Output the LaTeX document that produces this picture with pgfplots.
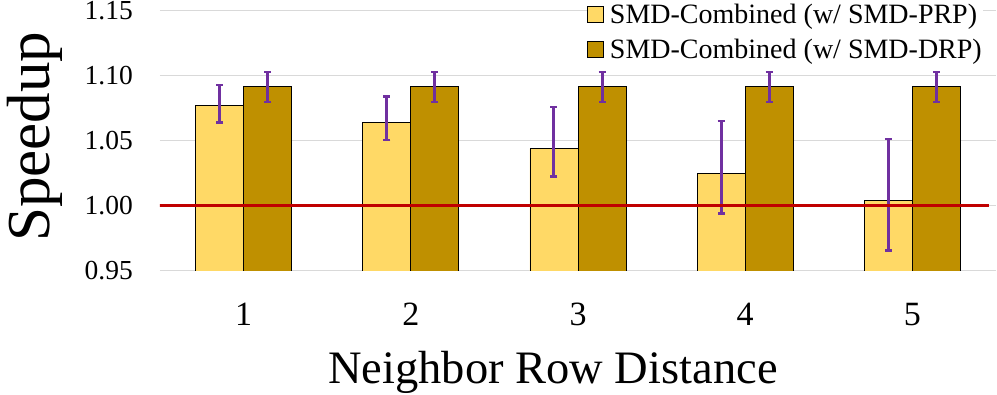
\documentclass[border=0pt]{standalone}
\usepackage{fontspec}
\setmainfont{Liberation Serif}
\usepackage{pgfplots}
\usepackage{pgfplotstable}
\pgfplotsset{compat=1.18}

\definecolor{ylw}{HTML}{FFD966}
\definecolor{gold}{HTML}{BF9000}
\definecolor{purp}{HTML}{7030A0}
\definecolor{redl}{HTML}{C00000}
\definecolor{gridc}{HTML}{D9D9D9}

% x  speedup  +err  -err
\pgfplotstableread{
x y ep em
1 1.0772 0.0159 0.0128
2 1.0644 0.0200 0.0136
3 1.0441 0.0321 0.0215
4 1.0251 0.0401 0.0307
5 1.0044 0.0471 0.0388
}\prp
\pgfplotstableread{
x y ep em
1 1.0923 0.0108 0.0123
2 1.0923 0.0108 0.0123
3 1.0923 0.0108 0.0123
4 1.0923 0.0108 0.0123
5 1.0923 0.0108 0.0123
}\drp

\pgfplotsset{
  errs/.style={forget plot, draw=none, mark=none,
    error bars/.cd, y dir=both, y explicit,
    error bar style={draw=purp, line width=3pt},
    error mark options={rotate=90, mark size=3.5pt, line width=2.5pt, draw=purp}},
}

\begin{document}
\begin{tikzpicture}
\begin{axis}[
  name=ax,
  scale only axis, width=836pt, height=260pt,
  xmin=0.5, xmax=5.5, ymin=0.95, ymax=1.15,
  xtick={1,2,3,4,5},
  ytick={0.95,1.00,1.05,1.10,1.15},
  /pgf/number format/assume math mode=true,
  yticklabel style={/pgf/number format/fixed, /pgf/number format/fixed zerofill,
    /pgf/number format/precision=2,
    font=\fontsize{27.5}{30}\selectfont, anchor=east, inner sep=0pt, xshift=-27pt},
  xticklabel style={font=\fontsize{34}{36}\selectfont, anchor=north, inner sep=0pt, yshift=-32pt},
  axis line style={draw=none}, tick style={draw=none},
  ymajorgrids, grid style={draw=gridc, line width=1pt},
  xlabel={Neighbor Row Distance},
  xlabel style={at={(axis description cs:0.5,0)}, anchor=base, yshift=-112pt, xshift=-25pt,
    font=\fontsize{46.5}{50}\selectfont},
  ylabel={Speedup},
  ylabel style={at={(axis description cs:-0.1495,0.517)}, anchor=center,
    font=\fontsize{61}{64}\selectfont},
  legend style={at={(axis description cs:1,1)}, anchor=north east, xshift=-13pt, yshift=8pt,
    draw=none, fill=white, font=\fontsize{28}{30}\selectfont, inner sep=0pt, row sep=11.5pt,
    nodes={inner sep=1pt}, cells={anchor=west}},
  legend image code/.code={\draw[#1, draw=black, line width=0.75pt] (0pt,-8pt) rectangle (16pt,8pt);},
]
\addplot[ybar, bar width=48pt, bar shift=0pt, fill=ylw, draw=black, line width=0.75pt]
  table[x expr=\thisrow{x}-0.1437, y=y] {\prp};
\addlegendentry{\hspace{5pt}SMD-Combined (w/ SMD-PRP)}
\addplot[ybar, bar width=48pt, bar shift=0pt, fill=gold, draw=black, line width=0.75pt]
  table[x expr=\thisrow{x}+0.1437, y=y] {\drp};
\addlegendentry{\hspace{5pt}SMD-Combined (w/ SMD-DRP)}
% error bars drawn as separate plots
\addplot[sharp plot, errs]
  table[x expr=\thisrow{x}-0.1437, y=y, y error plus=ep, y error minus=em] {\prp};
\addplot[sharp plot, errs]
  table[x expr=\thisrow{x}+0.1437, y=y, y error plus=ep, y error minus=em] {\drp};
\addplot[sharp plot, forget plot, draw=redl, line width=3pt] coordinates {(0.464,1) (5.458,1)};
\end{axis}
\pgfresetboundingbox
\path (ax.south west) ++(-160pt,-124pt) rectangle ([xshift=1pt,yshift=11pt]ax.north east);
\end{tikzpicture}
\end{document}
